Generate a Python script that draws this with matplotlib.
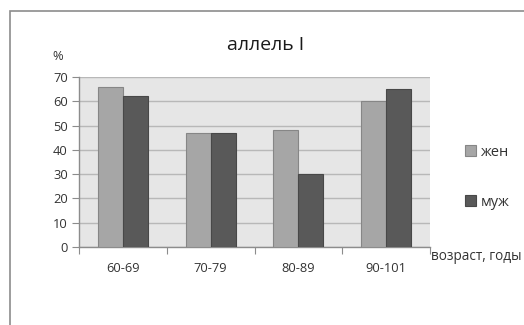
import matplotlib
matplotlib.use("Agg")
import matplotlib.pyplot as plt
from matplotlib.patches import Rectangle
import numpy as np

plt.rcParams['font.family'] = ['Open Sans', 'DejaVu Sans']

# age groups and allele frequency (%)
groups = ["60-69", "70-79", "80-89", "90-101"]
women = [66, 47, 48, 60]
men = [62, 47, 30, 65]
yticks = [0, 10, 20, 30, 40, 50, 60, 70]

fig = plt.figure(figsize=(5.24, 3.25), dpi=100)
fig.patch.set_facecolor("white")

# outer frame of the chart
fig.patches.append(Rectangle((10 / 524, -0.05), 1.0, 1 - 11 / 325 + 0.05,
                             transform=fig.transFigure, fill=False,
                             edgecolor="#8c8c8c", linewidth=1.2))

ax = fig.add_axes([79 / 524, 1 - 247 / 325, (430 - 79) / 524, (247 - 77) / 325])
ax.set_facecolor("#e6e6e6")

x = np.arange(len(groups))
w = 0.285
ax.bar(x - w / 2, women, w, color="#a6a6a6", edgecolor="#868686", linewidth=0.8,
       label="жен", zorder=3)
ax.bar(x + w / 2, men, w, color="#595959", edgecolor="#484848", linewidth=0.8,
       label="муж", zorder=3)

ax.set_ylim(0, 70)
ax.set_xlim(-0.5, len(groups) - 0.5)
ax.set_yticks(yticks)
ax.yaxis.grid(True, color="#b8b8b8", linewidth=1.0, zorder=0)
ax.set_axisbelow(True)

# category boundaries carry the tick marks, labels sit at the centres
ax.set_xticks(np.arange(-0.5, len(groups), 1.0))
ax.set_xticklabels([])
ax.set_xticks(x, minor=True)
ax.set_xticklabels(groups, minor=True, fontsize=9.3, color="#333333")
ax.tick_params(axis="x", which="major", length=5, color="#8c8c8c", direction="out")
ax.tick_params(axis="x", which="minor", length=0, pad=11)
ax.tick_params(axis="y", length=5, color="#8c8c8c", labelsize=9.3,
               labelcolor="#333333", pad=3)

for side in ["top", "right"]:
    ax.spines[side].set_visible(False)
for side in ["left", "bottom"]:
    ax.spines[side].set_color("#8c8c8c")
    ax.spines[side].set_linewidth(1.0)

fig.text(0.506, 1 - 45 / 325, "аллель I", ha="center", va="center",
         fontsize=14, color="#1a1a1a")
fig.text(58 / 524, 1 - 57 / 325, "%", ha="center", va="center",
         fontsize=9.3, color="#333333")
fig.text(431 / 524, 1 - 257 / 325, "возраст, годы", ha="left", va="center",
         fontsize=9.8, color="#333333")

ax.legend(loc="center left", bbox_to_anchor=(452 / 524, 1 - 177 / 325),
          bbox_transform=fig.transFigure, frameon=False, fontsize=10.5,
          handlelength=0.75, handleheight=0.75, handletextpad=0.3,
          labelspacing=2.4, labelcolor="#333333")

fig.savefig("out.png", dpi=100)
